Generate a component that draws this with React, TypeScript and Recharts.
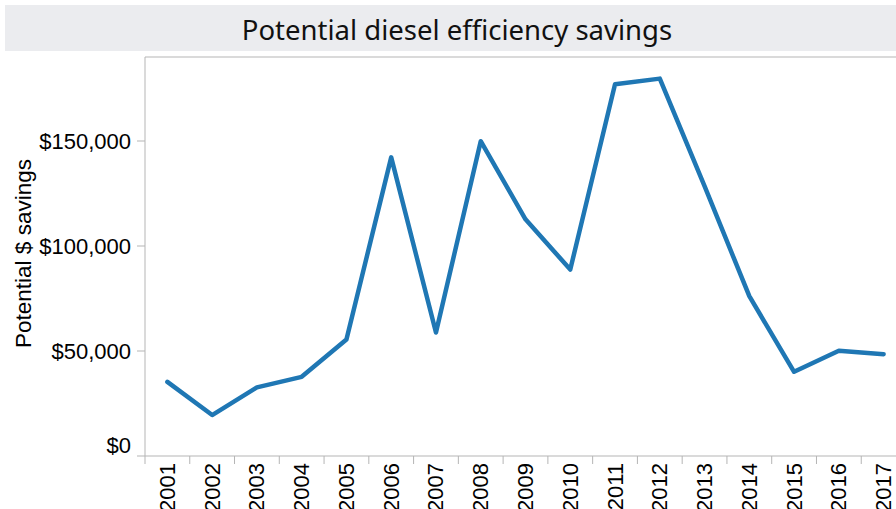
import React from "react";
import { LineChart, Line, XAxis, YAxis, ReferenceLine } from "recharts";

const years = ["2001","2002","2003","2004","2005","2006","2007","2008","2009","2010","2011","2012","2013","2014","2015","2016","2017"];
const savings = [35300, 19500, 32700, 37700, 55500, 142200, 58800, 149900, 112700, 88800, 177000, 179700, 128500, 76100, 40100, 50100, 48500];
const yTicks = [0, 50000, 100000, 150000];
const yMax = 190000;
const title = "Potential diesel efficiency savings";
const yTitle = "Potential $ savings";

const data = years.map((y, i) => ({ year: y, value: savings[i] }));

const AXIS = "#b5b5b5";
const FONT = "'Liberation Sans', Arial, sans-serif";

const fmt = (v: number) => "$" + v.toLocaleString("en-US");

const XTick = (props: any) => {
  const { x, y, payload, width, visibleTicksCount } = props;
  const bw = width / (visibleTicksCount || years.length);
  const x0 = x - bw / 2;
  return (
    <g>
      <line x1={x0} y1={456} x2={x0} y2={464} stroke={AXIS} strokeWidth={1} />
      <text
        transform={`translate(${x},${y - 1}) rotate(-90)`}
        textAnchor="end"
        dominantBaseline="central"
        fontSize={22}
        fontFamily={FONT}
        fill="#000"
      >
        {payload.value}
      </text>
    </g>
  );
};

const YTick = (props: any) => {
  const { x, y, payload } = props;
  const dy = payload.value === 0 ? -11 : 0;
  return (
    <text x={x} y={y + dy} textAnchor="end" dominantBaseline="central" fontSize={22} fontFamily={FONT} fill="#000">
      {fmt(payload.value)}
    </text>
  );
};

const YLabel = (props: any) => {
  const vb = props.viewBox || { x: 0, y: 57, width: 145, height: 399 };
  const cx = 23;
  const cy = vb.y + vb.height / 2 - 3;
  return (
    <text
      transform={`translate(${cx},${cy}) rotate(-90)`}
      textAnchor="middle"
      dominantBaseline="central"
      fontSize={22.5}
      fontFamily={FONT}
      fill="#000"
    >
      {yTitle}
    </text>
  );
};

export default function App() {
  return (
    <div style={{ position: "absolute", left: 0, top: 0, width: 896, height: 509, overflow: "hidden", background: "#fff" }}>
      <div
        style={{
          position: "absolute",
          left: 5,
          top: 5,
          width: 904,
          height: 46,
          background: "#ebecef",
          display: "flex",
          alignItems: "center",
          justifyContent: "center",
          fontFamily: "'Noto Sans', sans-serif",
          fontSize: 27.5,
          color: "#111",
          paddingTop: 2,
          boxSizing: "border-box",
        }}
      >
        {title}
      </div>
      <div style={{ position: "absolute", left: 0, top: 0 }}>
        <LineChart width={906} height={509} data={data} margin={{ top: 57, right: 0, bottom: 0, left: 0 }}>
          <XAxis
            dataKey="year"
            scale="band"
            height={53}
            axisLine={{ stroke: AXIS }}
            tickLine={false}
            tickSize={8}
            tickMargin={0}
            interval={0}
            tick={<XTick />}
          />
          <YAxis
            width={145}
            domain={[0, yMax]}
            ticks={yTicks}
            allowDataOverflow
            axisLine={{ stroke: AXIS }}
            tickLine={{ stroke: AXIS }}
            tickSize={8}
            tickMargin={6}
            tick={<YTick />}
            label={<YLabel />}
          />
          <ReferenceLine y={yMax} stroke={AXIS} strokeWidth={1} />
          <Line
            type="linear"
            dataKey="value"
            stroke="#1f77b4"
            strokeWidth={4.5}
            strokeLinejoin="round"
            strokeLinecap="round"
            dot={false}
            activeDot={false}
            isAnimationActive={false}
          />
        </LineChart>
      </div>
    </div>
  );
}
